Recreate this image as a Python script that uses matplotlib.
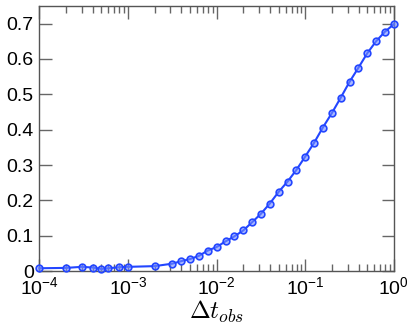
import numpy as np
import matplotlib
matplotlib.use("Agg")
import matplotlib.pyplot as plt
from matplotlib.ticker import FuncFormatter, LogLocator

plt.rcParams['font.family'] = ['Liberation Sans', 'DejaVu Sans']
plt.rcParams['mathtext.fontset'] = 'custom'
plt.rcParams['mathtext.rm'] = 'Liberation Sans'
plt.rcParams['mathtext.it'] = 'Liberation Sans:italic'

dt_obs = [1e-4, 2e-4, 3e-4, 4e-4, 5e-4, 6e-4, 8e-4, 1e-3,
          2e-3, 3.16e-3, 3.98e-3, 5.01e-3, 6.31e-3, 7.94e-3,
          1e-2, 1.26e-2, 1.58e-2, 2e-2, 2.51e-2, 3.16e-2, 3.98e-2, 5.01e-2, 6.31e-2, 7.94e-2,
          1e-1, 1.26e-1, 1.58e-1, 2e-1, 2.51e-1, 3.16e-1, 3.98e-1, 5.01e-1, 6.31e-1, 7.94e-1, 1.0]
value = [0.008, 0.009, 0.012, 0.010, 0.006, 0.008, 0.011, 0.012,
         0.014, 0.021, 0.028, 0.034, 0.043, 0.058,
         0.068, 0.084, 0.098, 0.115, 0.138, 0.162, 0.191, 0.224, 0.253, 0.286,
         0.324, 0.363, 0.406, 0.447, 0.490, 0.535, 0.575, 0.616, 0.650, 0.677, 0.698]
yticks = [0, 0.1, 0.2, 0.3, 0.4, 0.5, 0.6, 0.7]

fig = plt.figure(figsize=(4.15, 3.27), dpi=100)
ax = fig.add_axes([0.095, 0.171, 0.854, 0.811])

blue = '#2346ff'
ax.plot(dt_obs, value, '-', color=blue, lw=1.5, marker='o', ms=4.8,
        mfc=(0.45, 0.55, 1.0, 0.6), mec=blue, mew=1.2, clip_on=False, zorder=3)

ax.set_xscale('log')
ax.set_xlim(1e-4, 1)
ax.set_ylim(0, 0.75)
ax.set_yticks(yticks)
ax.yaxis.set_major_formatter(FuncFormatter(lambda v, p: '%g' % v))
ax.xaxis.set_major_locator(LogLocator(base=10, numticks=10))
ax.xaxis.set_minor_locator(LogLocator(base=10, subs=np.arange(2, 10), numticks=10))
ax.xaxis.set_major_formatter(FuncFormatter(lambda v, p: r'$10^{%d}$' % round(np.log10(v))))

ax.tick_params(which='both', direction='in', top=True, right=True, labelsize=14,
               color='#666666', pad=4)
ax.tick_params(which='major', length=9, width=1)
ax.tick_params(which='minor', length=5, width=1)
for s in ax.spines.values():
    s.set_color('#555555')
    s.set_linewidth(1.0)

ax.set_xlabel(r'$\Delta t_{obs}$', fontsize=18, math_fontfamily='cm', labelpad=0)

fig.savefig('out.png', dpi=100)
